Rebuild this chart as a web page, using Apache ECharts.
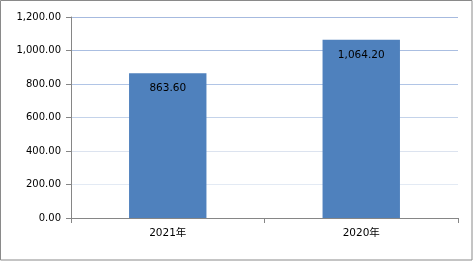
<!DOCTYPE html>
<html><head><meta charset="utf-8">
<script src="https://cdn.jsdelivr.net/npm/echarts@6/dist/echarts.min.js"></script>
<style>html,body{margin:0;padding:0;background:#fff}#c{width:474px;height:261px}</style>
</head><body><div id="c"></div>
<script>
const categories = ['2021年', '2020年'];
const values = [863.60, 1064.20];
const yTicks = [0, 200, 400, 600, 800, 1000, 1200];

function fmt(v) {
  return Number(v).toLocaleString('en-US', {minimumFractionDigits: 2, maximumFractionDigits: 2});
}
const chart = echarts.init(document.getElementById('c'), null, {renderer: 'canvas'});
chart.setOption({
  animation: false,
  backgroundColor: '#fff',
  textStyle: {fontFamily: '"DejaVu Sans", "Noto Sans CJK SC", sans-serif'},
  graphic: [{type: 'rect', shape: {x: 0.5, y: 0.5, width: 471.5, height: 259.5},
    style: {fill: 'none', stroke: '#8a8a8a', lineWidth: 1}, z: -1}],
  grid: {left: 71, right: 16, top: 17, bottom: 43, containLabel: false},
  xAxis: {
    type: 'category', data: categories,
    axisLine: {lineStyle: {color: '#868686', width: 1}},
    axisTick: {show: true, alignWithLabel: false, length: 5, lineStyle: {color: '#868686'}},
    axisLabel: {color: '#000', fontSize: 10.5, margin: 10, fontFamily: '"DejaVu Sans", "Noto Sans CJK SC", sans-serif'}
  },
  yAxis: {
    type: 'value', min: yTicks[0], max: yTicks[yTicks.length - 1], interval: 200,
    axisLine: {show: true, lineStyle: {color: '#868686', width: 1}},
    axisTick: {show: true, length: 5, lineStyle: {color: '#868686'}},
    axisLabel: {color: '#000', fontSize: 10, margin: 10, formatter: fmt},
    splitLine: {show: true, lineStyle: {color: ['#ffffff', '#e3eaf4', '#dce3ef', '#c4d3ea', '#b1c5e6', '#aabee1', '#a6badf'], width: 1}}
  },
  series: [{
    type: 'bar', data: values, barWidth: '40%',
    itemStyle: {color: '#4f81bd'},
    label: {show: true, position: 'insideTop', distance: 10, color: '#000', fontSize: 10.5, formatter: p => fmt(p.value)}
  }]
});
</script></body></html>
